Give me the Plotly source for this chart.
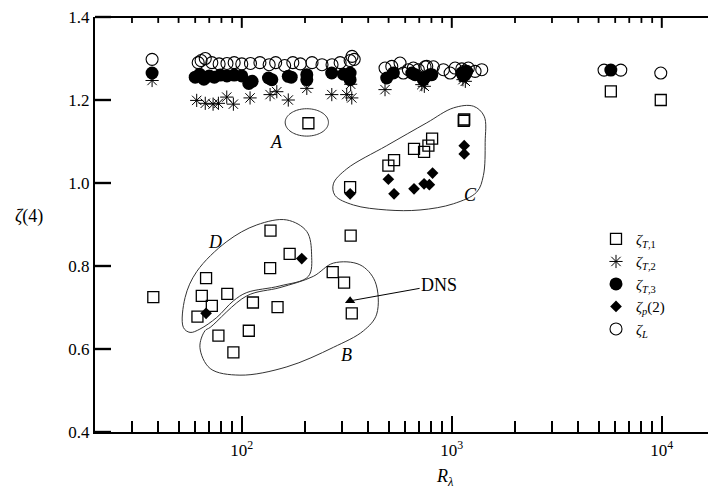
import numpy as np
import plotly.graph_objects as go

# ---------------- data ----------------
zT1_R = [37.9, 137, 169, 136.5, 67.6, 64.5, 85.3, 72, 61.5, 113, 148, 77.4, 108, 91.2,
         330, 271, 307, 334, 207.6, 328, 499, 531, 661, 738, 774, 806, 1146, 1140, 5720, 9890]
zT1_z = [0.725, 0.885, 0.829, 0.795, 0.771, 0.728, 0.733, 0.704, 0.678, 0.712, 0.701, 0.632, 0.644, 0.592,
         0.873, 0.785, 0.760, 0.686, 1.144, 0.990, 1.042, 1.055, 1.082, 1.075, 1.090, 1.107, 1.153, 1.150, 1.221, 1.200]

zT2_R = [37.4, 61, 67, 73, 77.4, 84.8, 91.2, 109.5, 136.4, 146.8, 166.5, 204, 268.3, 316, 334, 330,
         481, 720, 740, 1130, 1160]
zT2_z = [1.247, 1.199, 1.192, 1.19, 1.192, 1.207, 1.19, 1.205, 1.213, 1.22, 1.2, 1.228, 1.213, 1.213, 1.205, 1.238,
         1.225, 1.237, 1.233, 1.249, 1.245]

zT3_R = [37.4, 60, 63, 66, 70, 74, 79, 85, 92, 100, 108, 112, 134, 139, 166.5, 172, 204, 204, 268, 305, 328, 328,
         490, 527, 645, 669, 732, 745, 788, 803, 1116, 1136, 1160, 1178, 5720]
zT3_z = [1.265, 1.255, 1.262, 1.25, 1.258, 1.255, 1.26, 1.258, 1.26, 1.258, 1.24, 1.245, 1.253, 1.249, 1.257, 1.255,
         1.249, 1.261, 1.265, 1.262, 1.265, 1.249,
         1.253, 1.265, 1.265, 1.261, 1.249, 1.255, 1.261, 1.261, 1.265, 1.258, 1.262, 1.269, 1.272]

zp_R = [193, 67.6, 328, 499, 531, 661, 738, 782, 810, 1146, 1146]
zp_z = [0.818, 0.686, 0.974, 1.009, 0.974, 0.986, 0.998, 0.996, 1.024, 1.090, 1.070]

zL_R = [37.4, 62, 64, 67, 72, 78, 85, 92, 100, 110, 122, 135, 145, 160, 175, 190, 216, 241, 269, 294, 328, 335, 343,
        481, 518, 567, 588, 621, 656, 693, 746, 760, 817, 912, 982, 1037, 1116, 1150, 1199, 1291, 1389,
        5310, 6380, 9890]
zL_z = [1.298, 1.29, 1.295, 1.30, 1.29, 1.287, 1.288, 1.29, 1.287, 1.288, 1.29, 1.285, 1.29, 1.283, 1.29, 1.287,
        1.29, 1.285, 1.285, 1.29, 1.295, 1.305, 1.298,
        1.277, 1.281, 1.289, 1.265, 1.273, 1.277, 1.273, 1.28, 1.281, 1.28, 1.273, 1.265, 1.277, 1.275, 1.27,
        1.277, 1.269, 1.273, 1.272, 1.272, 1.265]

dns_R = [328]
dns_z = [0.716]

# hand-drawn group outlines (R, zeta)
outline_B_R = [70.7, 105.6, 152, 219, 273, 365, 431, 439, 380, 273, 164, 98, 70.7, 63.2, 66.8, 70.7]
outline_B_z = [0.652, 0.728, 0.748, 0.775, 0.807, 0.803, 0.763, 0.684, 0.644, 0.604, 0.557, 0.537, 0.553, 0.604, 0.644, 0.652]
outline_D_R = [53.7, 61.1, 84.9, 117.9, 163.7, 204, 215, 207.5, 152, 105.6, 91.2, 76, 63.2, 56.7, 52.7, 53.7]
outline_D_z = [0.724, 0.787, 0.859, 0.899, 0.911, 0.883, 0.827, 0.775, 0.752, 0.736, 0.716, 0.676, 0.648, 0.640, 0.652, 0.724]
outline_C_R = [316, 490, 760, 1019, 1268, 1426, 1442, 1414, 1314, 1019, 706, 490, 340, 278, 273, 316]
outline_C_z = [1.034, 1.090, 1.145, 1.181, 1.185, 1.161, 1.098, 1.018, 0.978, 0.950, 0.935, 0.935, 0.947, 0.970, 0.998, 1.034]
outline_A_center = (204, 1.146)
outline_A_halfwidth_dec = 0.103
outline_A_halfheight = 0.033

labels = [("A", 147, 1.098), ("B", 316, 0.585), ("C", 1222, 0.970), ("D", 74.6, 0.859)]

x_ticks = [100, 1000, 10000]
x_ticktext = ["10<sup>2</sup>", "10<sup>3</sup>", "10<sup>4</sup>"]
x_minor = [m * 10 ** e for e in (1, 2, 3, 4) for m in range(2, 10)]
y_ticks = [0.4, 0.6, 0.8, 1.0, 1.2, 1.4]
y_ticktext = ["0.4", "0.6", "0.8", "1.0", "1.2", "1.4"]

FONT = "Liberation Serif"
PW, PH = 621, 419           # plot area size in px
xr = [np.log10(20), np.log10(20) + PW / 210]
yr = [0.4, 1.4]

fig = go.Figure()


def add_outline(xs, ys):
    fig.add_trace(go.Scatter(x=xs, y=ys, mode="lines",
                             line=dict(color="#333", width=1, shape="spline", smoothing=1.0),
                             showlegend=False, hoverinfo="skip"))


add_outline(outline_B_R, outline_B_z)
add_outline(outline_D_R, outline_D_z)
add_outline(outline_C_R, outline_C_z)
t = np.linspace(0, 2 * np.pi, 80)
add_outline(list(10 ** (np.log10(outline_A_center[0]) + outline_A_halfwidth_dec * np.cos(t))),
            list(outline_A_center[1] + outline_A_halfheight * np.sin(t)))

fig.add_trace(go.Scatter(x=zT2_R, y=zT2_z, mode="markers", name="<i>ζ</i><sub><i>T</i>,2</sub>", legendrank=2,
                         marker=dict(symbol="asterisk-open", size=11, color="black",
                                     line=dict(color="black", width=1))))
fig.add_trace(go.Scatter(x=zT3_R, y=zT3_z, mode="markers", name="<i>ζ</i><sub><i>T</i>,3</sub>", legendrank=3,
                         marker=dict(symbol="circle", size=13, color="black", line=dict(width=0))))
fig.add_trace(go.Scatter(x=zL_R, y=zL_z, mode="markers", name="<i>ζ</i><sub><i>L</i></sub>", legendrank=5,
                         marker=dict(symbol="circle-open", size=12, color="black", line=dict(width=1.1))))
fig.add_trace(go.Scatter(x=zT1_R, y=zT1_z, mode="markers", name="<i>ζ</i><sub><i>T</i>,1</sub>", legendrank=1,
                         marker=dict(symbol="square-open", size=11, color="black", line=dict(width=1.3))))
fig.add_trace(go.Scatter(x=zp_R, y=zp_z, mode="markers", name="<i>ζ</i><sub><i>p</i></sub>(2)", legendrank=4,
                         marker=dict(symbol="diamond", size=9, color="black", line=dict(width=0))))
fig.add_trace(go.Scatter(x=dns_R, y=dns_z, mode="markers", showlegend=False,
                         marker=dict(symbol="triangle-up", size=9, color="black", line=dict(width=0))))

annotations = []
for txt, R, z in labels:
    annotations.append(dict(x=np.log10(R), y=z, xref="x", yref="y", text=f"<i>{txt}</i>", showarrow=False,
                            font=dict(family=FONT, size=18, color="black")))
annotations.append(dict(x=np.log10(dns_R[0]), y=dns_z[0], xref="x", yref="y", text="DNS", showarrow=True,
                        arrowhead=0, arrowwidth=1, arrowcolor="black", ax=89, ay=-16, standoff=2,
                        font=dict(family=FONT, size=18, color="black")))
annotations.append(dict(x=(445 - 95) / PW, y=-(478 - 432.3) / PH, xref="paper", yref="paper",
                        xanchor="center", yanchor="middle",
                        text="<i>R</i><sub><i>λ</i></sub>", showarrow=False,
                        font=dict(family=FONT, size=18, color="black")))
annotations.append(dict(x=-(95 - 29) / PW, y=(432.3 - 215) / PH, xref="paper", yref="paper",
                        xanchor="center", yanchor="middle",
                        text="<i>ζ</i>(4)", showarrow=False, font=dict(family=FONT, size=18, color="black")))


def xfrac(v):
    return (np.log10(v) - xr[0]) / (xr[1] - xr[0])


def yfrac(v):
    return (v - yr[0]) / (yr[1] - yr[0])


# frame ticks drawn as shapes: top (short), right (short), left (long)
shapes = []
for v in x_ticks:
    shapes.append(dict(type="line", xref="paper", yref="paper", x0=xfrac(v), x1=xfrac(v), y0=1, y1=1 - 11 / PH,
                       line=dict(color="black", width=2)))
for v in x_minor:
    if xr[0] < np.log10(v) < xr[1]:
        shapes.append(dict(type="line", xref="paper", yref="paper", x0=xfrac(v), x1=xfrac(v), y0=1, y1=1 - 6 / PH,
                           line=dict(color="black", width=1.8)))
for v in y_ticks:
    shapes.append(dict(type="line", xref="paper", yref="paper", x0=1, x1=1 - 8 / PW, y0=yfrac(v), y1=yfrac(v),
                       line=dict(color="black", width=2)))
    shapes.append(dict(type="rect", xref="paper", yref="paper", x0=0, x1=16 / PW,
                       y0=yfrac(v) - 1.2 / PH, y1=yfrac(v) + 1.2 / PH,
                       line=dict(width=0), fillcolor="black"))
shapes.append(dict(type="line", xref="paper", yref="paper", x0=0, x1=1, y0=1, y1=1,
                   line=dict(color="black", width=2)))

fig.update_layout(
    width=708, height=487,
    margin=dict(l=87, r=0, t=5, b=63),
    plot_bgcolor="white", paper_bgcolor="white",
    font=dict(family=FONT, size=17, color="black"),
    showlegend=True,
    legend=dict(x=(596 - 95) / PW, y=(432.3 - 221) / PH, xanchor="left", yanchor="top",
                bgcolor="rgba(0,0,0,0)", font=dict(family=FONT, size=15), tracegroupgap=0,
                itemsizing="trace"),
    xaxis=dict(type="log", range=xr, tickvals=x_ticks, ticktext=x_ticktext, ticks="inside", ticklen=16,
               tickwidth=2, tickcolor="black", showline=True, linewidth=2, linecolor="black",
               showgrid=False, zeroline=False, ticklabelstandoff=2,
               minor=dict(tickvals=x_minor, ticks="inside", ticklen=11, tickwidth=1.8, tickcolor="black")),
    yaxis=dict(range=yr, tickvals=y_ticks, ticktext=y_ticktext, ticks="inside", ticklen=16, tickwidth=2.4,
               tickcolor="black", ticksuffix="  ",
               showline=True, linewidth=2, linecolor="black", showgrid=False, zeroline=False,
               ticklabeloverflow="allow"),
    annotations=annotations,
    shapes=shapes,
)

fig.write_html("out.html")
